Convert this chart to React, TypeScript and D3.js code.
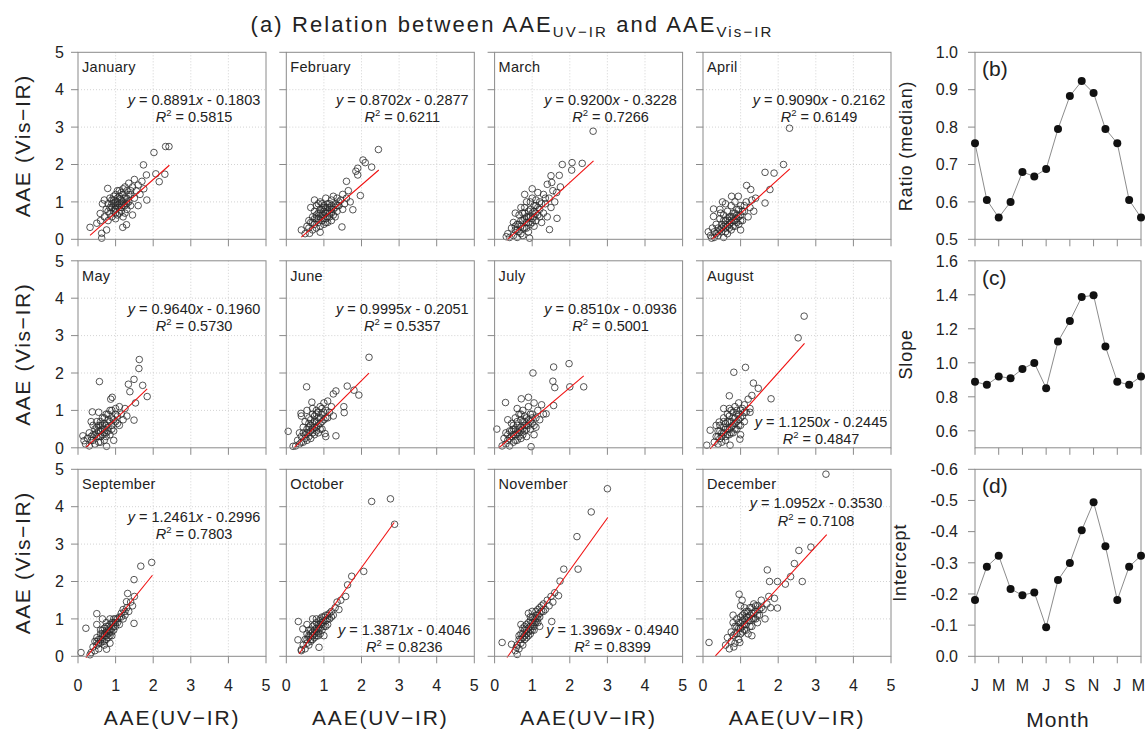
import React from "react";
import * as d3 from "d3";

const FONT = "'Liberation Sans', Arial, Helvetica, sans-serif";

// ---------- data ----------
const monthNames = ["January", "February", "March", "April", "May", "June", "July", "August", "September", "October", "November", "December"];
const slopes = [0.8891, 0.8702, 0.92, 0.909, 0.964, 0.9995, 0.851, 1.125, 1.2461, 1.3871, 1.3969, 1.0952];
const intercepts = [-0.1803, -0.2877, -0.3228, -0.2162, -0.196, -0.2051, -0.0936, -0.2445, -0.2996, -0.4046, -0.494, -0.353];
const r2Values = [0.5815, 0.6211, 0.7266, 0.6149, 0.573, 0.5357, 0.5001, 0.4847, 0.7803, 0.8236, 0.8399, 0.7108];
const fitXMin = [0.32, 0.4, 0.33, 0.23, 0.2, 0.21, 0.11, 0.19, 0.21, 0.34, 0.33, 0.33];
const fitXMax = [2.43, 2.46, 2.63, 2.31, 1.84, 2.2, 2.37, 2.7, 1.98, 2.87, 3.01, 3.29];
const ratioMedian = [0.757, 0.605, 0.558, 0.6, 0.68, 0.668, 0.688, 0.795, 0.883, 0.923, 0.891, 0.795];
const monthTickLabels = ["J", "M", "M", "J", "S", "N", "J", "M"];
const scatterTicks = [0, 1, 2, 3, 4, 5];
const ratioTicks = [0.5, 0.6, 0.7, 0.8, 0.9, 1.0];
const slopeTicks = [0.6, 0.8, 1.0, 1.2, 1.4, 1.6];
const interceptTicks = [0, -0.1, -0.2, -0.3, -0.4, -0.5, -0.6];

// scatter points (x,y pairs)
const ptsJan = [0.7,0.6, 0.75,0.8, 0.8,0.5, 0.8,0.95, 0.85,0.7, 0.85,1.1, 0.9,0.6, 0.9,0.85, 0.9,1.05, 0.95,0.75, 0.95,0.95, 1.0,0.55, 1.0,0.8, 1.0,1.0, 1.0,1.2, 1.05,0.9, 1.05,1.1, 1.1,0.7, 1.1,0.95, 1.1,1.3, 1.15,0.85, 1.15,1.05, 1.2,0.6, 1.2,1.0, 1.2,1.2, 1.25,0.9, 1.25,1.4, 1.3,0.8, 1.3,1.1, 1.3,1.3, 1.35,1.0, 1.35,1.5, 1.4,1.2, 1.4,0.9, 1.45,1.4, 1.5,1.1, 1.5,1.6, 1.55,1.3, 1.6,1.45, 1.65,1.2, 1.7,1.55, 1.75,1.35, 0.65,0.95, 0.7,1.05, 0.6,0.5, 1.45,0.65, 1.6,0.9,
  0.95,1.15, 1.0,0.7, 1.05,1.3, 1.1,0.85, 1.1,1.15, 1.15,0.75, 1.15,1.25, 1.2,0.9, 1.25,1.1, 1.25,0.7, 1.3,1.0, 1.0,0.9, 0.9,0.95, 0.85,0.85, 1.05,0.65, 1.2,1.35, 1.35,1.2, 0.95,1.05, 1.4,1.3, 1.15,0.95, 0.8,0.75, 1.3,0.95, 1.05,1.0, 1.12,1.08, 0.98,0.82,
  0.32,0.32, 0.63,0.03, 0.63,0.16, 0.76,0.25, 0.79,1.36, 0.5,0.43, 2.02,2.32, 2.33,2.48, 2.42,2.48, 1.74,1.99, 2.31,1.74, 2.16,1.54, 2.07,1.75, 1.82,1.72, 1.83,1.05, 1.19,0.32, 1.29,0.39, 0.59,0.69];
const ptsFeb = [0.5,0.15, 0.55,0.35, 0.6,0.3, 0.6,0.5, 0.65,0.45, 0.7,0.25, 0.7,0.6, 0.75,0.4, 0.75,0.75, 0.8,0.3, 0.8,0.55, 0.8,0.9, 0.85,0.45, 0.85,0.7, 0.9,0.35, 0.9,0.6, 0.9,1.0, 0.95,0.5, 0.95,0.8, 1.0,0.4, 1.0,0.65, 1.0,0.9, 1.05,0.55, 1.05,1.1, 1.1,0.45, 1.1,0.75, 1.1,0.95, 1.15,0.6, 1.15,0.85, 1.2,0.5, 1.2,0.7, 1.2,1.05, 1.25,0.8, 1.3,0.6, 1.3,0.95, 1.35,0.75, 1.35,1.1, 1.4,0.9, 1.45,1.05, 1.5,0.8, 1.5,1.2, 1.55,0.95, 1.6,1.1, 1.65,1.3, 1.7,1.0, 0.65,0.85, 0.75,1.05, 1.25,1.15,
  0.9,0.7, 0.95,0.65, 1.0,0.75, 1.05,0.7, 1.05,0.85, 1.1,0.6, 1.1,0.85, 1.15,0.7, 1.15,0.95, 1.2,0.8, 0.85,0.55, 0.8,0.65, 1.25,0.65, 1.0,0.55, 0.95,0.95, 1.3,0.85, 0.7,0.45, 0.75,0.55, 1.4,1.0, 1.2,0.9, 0.9,0.8, 1.05,0.45, 1.35,0.9, 1.0,0.85, 0.85,0.95,
  0.4,0.25, 0.62,0.16, 0.9,0.19, 1.48,0.33, 2.45,2.4, 2.04,2.12, 2.1,2.05, 1.9,1.9, 1.85,1.82, 1.9,1.72, 2.27,1.93, 1.6,1.55, 1.97,1.17, 1.77,0.79];
const ptsMar = [0.35,0.15, 0.4,0.05, 0.45,0.3, 0.5,0.1, 0.5,0.45, 0.55,0.25, 0.6,0.05, 0.6,0.4, 0.65,0.2, 0.65,0.65, 0.7,0.35, 0.7,0.85, 0.75,0.1, 0.75,0.5, 0.8,0.3, 0.8,0.7, 0.85,0.45, 0.85,1.0, 0.9,0.2, 0.9,0.6, 0.95,0.8, 0.95,0.4, 1.0,0.55, 1.0,1.1, 1.05,0.35, 1.05,0.75, 1.1,0.9, 1.1,0.5, 1.15,1.25, 1.15,0.65, 1.2,0.8, 1.2,1.0, 1.25,0.45, 1.3,0.7, 1.3,1.2, 1.35,0.95, 1.4,0.6, 1.45,1.1, 1.5,0.85, 1.55,1.3, 1.6,1.0, 1.65,1.25, 1.75,1.4, 0.55,0.7, 0.8,1.2, 1.0,1.35,
  0.7,0.5, 0.75,0.3, 0.8,0.55, 0.85,0.6, 0.85,0.3, 0.9,0.45, 0.9,0.75, 0.95,0.6, 1.0,0.7, 1.0,0.45, 1.05,0.6, 1.05,0.9, 1.1,0.7, 1.15,0.85, 0.65,0.4, 0.6,0.25, 0.7,0.15, 1.2,0.6, 1.25,0.95, 0.95,1.0, 0.8,0.85, 1.35,1.1, 0.55,0.35, 1.1,1.05, 0.75,0.7,
  2.62,2.89, 1.8,2.0, 2.06,2.05, 2.33,2.03, 2.05,1.85, 1.5,1.7, 1.72,1.71, 1.4,1.47, 1.52,1.52, 0.93,0.03, 0.31,0.07, 1.66,0.56, 1.46,0.26];
const ptsApr = [0.2,0.1, 0.25,0.3, 0.3,0.05, 0.3,0.2, 0.35,0.4, 0.4,0.1, 0.4,0.3, 0.45,0.55, 0.5,0.2, 0.5,0.4, 0.55,0.05, 0.55,0.65, 0.6,0.3, 0.6,0.5, 0.65,0.15, 0.65,0.75, 0.7,0.4, 0.7,0.6, 0.75,0.25, 0.75,0.9, 0.8,0.5, 0.8,0.7, 0.85,0.35, 0.85,1.0, 0.9,0.55, 0.9,0.8, 0.95,0.4, 1.0,0.65, 1.0,0.9, 1.05,0.5, 1.1,0.75, 1.15,1.0, 1.2,0.6, 1.25,0.85, 1.3,1.05, 1.35,0.75, 1.4,1.1, 0.45,0.8, 0.6,0.95, 1.0,0.25,
  0.5,0.3, 0.55,0.35, 0.6,0.2, 0.6,0.4, 0.65,0.35, 0.65,0.55, 0.7,0.3, 0.7,0.5, 0.75,0.45, 0.75,0.6, 0.8,0.35, 0.8,0.6, 0.85,0.5, 0.85,0.7, 0.9,0.45, 0.9,0.65, 0.95,0.6, 0.45,0.25, 0.4,0.2, 1.0,0.5, 1.05,0.75, 0.55,0.5, 0.35,0.15, 1.1,0.9, 0.95,0.8,
  2.3,2.97, 2.14,2.0, 1.65,1.79, 1.89,1.77, 1.16,1.44, 1.27,1.33, 1.78,1.33, 1.65,0.97, 0.52,1.0, 0.28,0.81, 0.28,0.61, 0.47,0.7, 0.76,1.15, 0.94,1.15, 0.14,0.2, 0.23,0.03];
const ptsMay = [0.2,0.1, 0.25,0.25, 0.3,0.05, 0.3,0.4, 0.35,0.2, 0.4,0.35, 0.4,0.6, 0.45,0.1, 0.45,0.5, 0.5,0.3, 0.5,0.7, 0.55,0.15, 0.55,0.45, 0.6,0.6, 0.6,0.3, 0.65,0.8, 0.65,0.5, 0.7,0.2, 0.7,0.65, 0.75,0.4, 0.75,0.9, 0.8,0.55, 0.8,0.75, 0.85,0.35, 0.85,1.0, 0.9,0.6, 0.9,0.8, 0.95,0.45, 1.0,0.7, 1.0,1.05, 1.05,0.85, 1.1,0.6, 1.1,1.1, 1.15,0.9, 1.2,0.75, 1.25,1.05, 1.3,0.85, 0.35,0.7, 0.55,0.95, 0.95,0.2,
  0.5,0.4, 0.55,0.3, 0.55,0.6, 0.6,0.45, 0.6,0.7, 0.65,0.35, 0.65,0.6, 0.7,0.5, 0.7,0.8, 0.75,0.6, 0.75,0.3, 0.8,0.45, 0.8,0.9, 0.85,0.7, 0.9,0.5, 0.45,0.35, 0.4,0.2, 0.35,0.3, 0.95,0.75, 1.0,0.9, 0.5,0.55, 0.9,1.0, 0.6,0.15, 1.05,0.65, 0.7,0.4,
  1.63,2.36, 1.62,2.12, 1.49,1.83, 1.34,1.7, 1.72,1.67, 1.38,1.5, 1.84,1.37, 1.53,1.2, 1.49,0.74, 0.57,1.77, 0.38,0.96, 0.91,1.35, 0.87,1.3, 0.13,0.32, 0.16,0.19, 0.76,0.04];
const ptsJun = [0.25,0.05, 0.3,0.2, 0.35,0.1, 0.35,0.4, 0.4,0.3, 0.45,0.15, 0.45,0.55, 0.5,0.35, 0.5,0.7, 0.55,0.2, 0.55,0.5, 0.6,0.8, 0.6,0.4, 0.65,0.6, 0.65,0.25, 0.7,0.9, 0.7,0.5, 0.75,0.7, 0.75,0.35, 0.8,1.0, 0.8,0.55, 0.85,0.8, 0.85,0.4, 0.9,1.1, 0.9,0.65, 0.95,0.9, 0.95,0.5, 1.0,1.2, 1.0,0.75, 1.05,1.0, 1.1,0.8, 1.1,1.25, 1.15,0.95, 1.2,1.1, 1.25,0.85, 0.4,0.85, 0.55,1.0, 1.05,0.3,
  0.55,0.4, 0.6,0.55, 0.6,0.3, 0.65,0.45, 0.65,0.75, 0.7,0.4, 0.7,0.65, 0.75,0.55, 0.75,0.85, 0.8,0.45, 0.8,0.7, 0.85,0.6, 0.85,0.95, 0.9,0.5, 0.9,0.8, 0.95,0.7, 1.0,0.95, 0.5,0.25, 0.45,0.4, 0.4,0.15, 1.05,0.8, 0.7,1.05, 0.95,1.05, 0.6,0.65, 0.8,0.9,
  2.2,2.42, 1.62,1.65, 1.8,1.54, 1.93,1.41, 1.53,1.1, 1.54,0.94, 1.32,0.32, 0.54,1.63, 0.05,0.44, 0.18,0.04, 1.32,1.52, 1.25,1.44, 1.03,0.38, 0.39,0.92, 0.68,1.22];
const ptsJul = [0.2,0.05, 0.25,0.25, 0.3,0.1, 0.3,0.4, 0.35,0.2, 0.4,0.45, 0.4,0.05, 0.45,0.3, 0.45,0.65, 0.5,0.15, 0.5,0.5, 0.55,0.35, 0.55,0.8, 0.6,0.2, 0.6,0.6, 0.65,0.4, 0.65,0.9, 0.7,0.55, 0.7,0.25, 0.75,0.7, 0.75,1.0, 0.8,0.45, 0.8,0.85, 0.85,0.6, 0.85,0.3, 0.9,0.75, 0.9,1.1, 0.95,0.5, 1.0,0.9, 1.0,0.65, 1.05,1.2, 1.1,0.8, 1.1,0.55, 1.15,1.0, 1.2,0.75, 1.25,1.15, 1.3,0.9, 0.35,0.75, 0.6,1.05, 1.05,0.35,
  0.5,0.35, 0.55,0.5, 0.55,0.2, 0.6,0.4, 0.6,0.7, 0.65,0.5, 0.65,0.3, 0.7,0.45, 0.7,0.75, 0.75,0.5, 0.75,0.35, 0.8,0.6, 0.8,0.7, 0.85,0.5, 0.85,0.8, 0.9,0.6, 0.95,0.7, 0.45,0.45, 0.4,0.25, 0.35,0.35, 1.0,0.8, 0.95,0.9, 0.5,0.6, 0.7,0.9, 1.05,0.6,
  1.98,2.25, 1.57,2.16, 1.02,2.0, 1.55,1.78, 1.6,1.61, 2.0,1.63, 2.37,1.63, 1.57,1.13, 0.06,0.5, 0.29,1.21, 0.71,1.31, 0.9,1.35, 0.97,0.03, 1.37,0.91];
const ptsAug = [0.3,0.15, 0.35,0.3, 0.4,0.1, 0.4,0.45, 0.45,0.25, 0.45,0.6, 0.5,0.4, 0.5,0.15, 0.55,0.55, 0.55,0.8, 0.6,0.3, 0.6,0.65, 0.65,0.5, 0.65,0.9, 0.7,0.35, 0.7,0.7, 0.75,0.55, 0.75,1.0, 0.8,0.4, 0.8,0.8, 0.85,0.65, 0.85,1.1, 0.9,0.5, 0.9,0.9, 0.95,0.75, 0.95,1.2, 1.0,0.6, 1.0,1.0, 1.05,0.85, 1.1,1.15, 1.1,0.7, 1.15,0.95, 1.2,1.3, 1.25,1.05, 1.3,1.4, 0.35,0.6, 0.55,1.05, 1.0,0.35,
  0.55,0.4, 0.6,0.5, 0.6,0.2, 0.65,0.35, 0.65,0.7, 0.7,0.5, 0.7,0.85, 0.75,0.4, 0.75,0.7, 0.8,0.6, 0.8,0.95, 0.85,0.5, 0.85,0.8, 0.9,0.7, 0.9,1.0, 0.95,0.9, 0.5,0.3, 0.45,0.45, 0.4,0.3, 1.0,0.8, 1.05,1.05, 0.55,0.7, 0.7,1.05, 0.95,0.6, 1.1,0.95,
  2.69,3.52, 2.53,2.94, 1.13,2.15, 0.82,2.02, 1.81,1.31, 1.34,1.73, 1.47,1.59, 1.25,0.95, 0.7,1.39, 0.1,0.07, 0.19,0.47, 0.43,0.69, 0.98,0.23, 0.72,0.07];
const ptsSep = [0.35,0.1, 0.4,0.25, 0.45,0.15, 0.45,0.4, 0.5,0.3, 0.5,0.5, 0.55,0.2, 0.55,0.45, 0.6,0.35, 0.6,0.6, 0.65,0.5, 0.65,0.7, 0.7,0.4, 0.7,0.6, 0.75,0.55, 0.75,0.8, 0.8,0.5, 0.8,0.7, 0.85,0.65, 0.85,0.85, 0.9,0.75, 0.9,0.55, 0.95,0.9, 0.95,0.7, 1.0,0.8, 1.0,1.0, 1.05,0.9, 1.1,1.05, 1.1,0.85, 1.15,1.15, 1.2,1.0, 1.2,1.25, 1.25,1.1, 1.3,1.3, 1.35,1.2, 1.4,1.45, 1.45,1.35, 1.5,1.6, 0.5,0.85, 0.65,1.0, 0.85,0.35,
  0.6,0.45, 0.65,0.6, 0.65,0.4, 0.7,0.55, 0.7,0.75, 0.75,0.65, 0.75,0.45, 0.8,0.6, 0.8,0.8, 0.85,0.7, 0.85,0.55, 0.9,0.65, 0.9,0.9, 0.95,0.8, 1.0,0.9, 0.55,0.35, 0.6,0.7, 0.75,0.9, 0.95,1.0, 1.05,1.0, 0.5,0.4, 1.15,1.05, 0.7,0.3, 0.85,1.0, 1.25,1.2,
  1.96,2.51, 1.67,2.41, 1.49,2.05, 1.49,0.88, 0.21,0.75, 0.08,0.1, 0.5,1.14, 1.32,1.68, 1.29,1.46, 0.76,0.19, 0.32,0.04];
const ptsOct = [0.4,0.15, 0.45,0.3, 0.5,0.2, 0.5,0.45, 0.55,0.35, 0.55,0.6, 0.6,0.3, 0.6,0.5, 0.65,0.45, 0.65,0.7, 0.7,0.55, 0.7,0.8, 0.75,0.5, 0.75,0.7, 0.8,0.65, 0.8,0.9, 0.85,0.75, 0.85,0.55, 0.9,0.85, 0.9,1.0, 0.95,0.7, 0.95,0.9, 1.0,0.8, 1.0,1.05, 1.05,0.95, 1.1,1.1, 1.1,0.85, 1.15,1.0, 1.2,1.2, 1.25,1.1, 1.3,1.3, 1.35,1.45, 1.4,1.25, 1.45,1.5, 0.55,0.85, 0.7,1.0, 1.0,0.55,
  0.6,0.55, 0.65,0.6, 0.7,0.65, 0.7,0.45, 0.75,0.6, 0.75,0.85, 0.8,0.75, 0.8,0.55, 0.85,0.85, 0.85,0.65, 0.9,0.75, 0.9,0.95, 0.95,0.85, 0.95,1.05, 1.0,0.95, 1.05,1.1, 1.05,0.8, 0.65,0.4, 0.6,0.7, 1.1,1.0, 1.15,1.15, 0.8,1.0, 0.9,0.6, 1.2,1.05, 0.55,0.45,
  2.27,4.14, 2.77,4.21, 2.88,3.53, 2.06,2.27, 1.74,2.14, 1.63,1.91, 1.58,1.6, 0.32,0.93, 0.31,0.44, 0.87,0.24, 0.44,0.73, 0.4,0.18];
const ptsNov = [0.55,0.15, 0.6,0.3, 0.65,0.2, 0.65,0.45, 0.7,0.35, 0.7,0.6, 0.75,0.5, 0.75,0.3, 0.8,0.45, 0.8,0.7, 0.85,0.6, 0.85,0.85, 0.9,0.55, 0.9,0.75, 0.95,0.7, 0.95,0.95, 1.0,0.8, 1.0,1.05, 1.05,0.9, 1.05,0.7, 1.1,1.0, 1.1,1.2, 1.15,0.9, 1.15,1.1, 1.2,1.3, 1.2,1.05, 1.25,1.2, 1.3,1.4, 1.35,1.25, 1.4,1.5, 1.45,1.35, 1.5,1.6, 1.55,1.45, 1.6,1.7, 0.7,0.85, 0.9,1.15, 1.2,0.8,
  0.75,0.6, 0.8,0.55, 0.8,0.8, 0.85,0.7, 0.85,0.5, 0.9,0.65, 0.9,0.9, 0.95,0.8, 0.95,0.6, 1.0,0.9, 1.0,0.7, 1.05,1.0, 1.05,0.8, 1.1,0.9, 1.1,1.1, 1.15,1.0, 1.15,1.25, 1.2,1.15, 1.25,1.35, 0.7,0.45, 0.65,0.55, 0.75,0.75, 1.3,1.2, 1.0,1.2, 0.95,1.05,
  3.0,4.48, 2.57,3.86, 2.19,3.2, 2.22,2.33, 1.84,2.33, 1.74,2.01, 1.7,1.62, 1.52,0.93, 0.2,0.37, 0.6,0.05, 0.58,0.24, 0.45,0.32];
const ptsDec = [0.6,0.3, 0.65,0.5, 0.7,0.2, 0.75,0.4, 0.75,0.65, 0.8,0.55, 0.85,0.35, 0.85,0.8, 0.9,0.6, 0.9,1.0, 0.95,0.45, 0.95,0.75, 1.0,0.9, 1.0,0.6, 1.05,1.1, 1.05,0.8, 1.1,0.7, 1.1,1.0, 1.15,1.2, 1.15,0.85, 1.2,0.6, 1.2,1.05, 1.25,0.95, 1.25,1.3, 1.3,0.8, 1.3,1.15, 1.35,1.0, 1.35,1.4, 1.4,1.2, 1.45,0.9, 1.45,1.35, 1.5,1.1, 1.55,1.5, 1.6,1.25, 1.65,1.0, 1.7,1.4, 1.75,1.6, 1.8,1.3, 1.9,1.55, 0.8,1.1, 1.0,1.35, 1.3,0.55,
  0.9,0.8, 0.95,0.9, 1.0,0.75, 1.0,1.05, 1.05,0.95, 1.05,0.65, 1.1,0.85, 1.1,1.15, 1.15,1.05, 1.15,0.7, 1.2,0.95, 1.2,1.2, 1.25,1.1, 1.25,0.8, 1.3,1.0, 1.3,1.3, 1.35,1.15, 1.4,1.0, 1.4,1.35, 1.5,1.25, 0.85,0.6, 0.8,0.9, 1.55,1.3, 1.1,1.3, 1.45,1.1,
  3.27,4.87, 2.87,2.92, 2.55,2.83, 2.43,2.48, 2.33,2.13, 2.64,2.0, 2.19,1.93, 1.71,2.31, 1.98,2.0, 1.98,1.29, 1.77,2.0, 0.96,1.66, 1.04,1.5, 0.16,0.37, 0.82,0.25, 0.98,0.37];
const monthPoints = [ptsJan, ptsFeb, ptsMar, ptsApr, ptsMay, ptsJun, ptsJul, ptsAug, ptsSep, ptsOct, ptsNov, ptsDec];

// ---------- layout ----------
const PW = 188, PH = 187;
const colX = [78, 286.3, 494.6, 703];
const rowY = [52.3, 260.8, 469.3];
const eqPlace = ["t", "t", "t", "t", "t", "t", "t", "b", "t", "b", "b", "m"];
const RX = 975, RW = 166;
const AX = "#8a8a8a";
const TXT = "#222";

function toPairs(flat: number[]) {
  const out: [number, number][] = [];
  for (let k = 0; k + 1 < flat.length; k += 2) out.push([flat[k], flat[k + 1]]);
  return out;
}

function ScatterPanel({ idx }: { idx: number }) {
  const c = idx % 4, r = Math.floor(idx / 4);
  const x0 = colX[c], y0 = rowY[r];
  const xs = d3.scaleLinear().domain([0, 5]).range([x0, x0 + PW]);
  const ys = d3.scaleLinear().domain([0, 5]).range([y0 + PH, y0]);
  const pts = toPairs(monthPoints[idx]);
  const a = slopes[idx], b = intercepts[idx];
  const line = d3.line<number>().x((v) => xs(v)).y((v) => ys(a * v + b));
  const place = eqPlace[idx];
  let cx = x0 + 116, b1 = y0 + 53, b2 = y0 + 70;
  if (place === "b") { cx = x0 + 118; b1 = y0 + PH - 21; b2 = y0 + PH - 4; }
  if (place === "m") { cx = x0 + 113; b1 = y0 + 39; b2 = y0 + 57; }
  const bStr = Math.abs(b).toFixed(4);
  return (
    <g>
      {scatterTicks.slice(1, 5).map((t) => (
        <g key={"g" + t}>
          <line x1={xs(t)} x2={xs(t)} y1={y0} y2={y0 + PH} stroke="#c8c8c8" strokeWidth={0.8} strokeDasharray="1,2" />
          <line x1={x0} x2={x0 + PW} y1={ys(t)} y2={ys(t)} stroke="#c8c8c8" strokeWidth={0.8} strokeDasharray="1,2" />
        </g>
      ))}
      {pts.map(([px, py], k) => (
        <circle key={k} cx={xs(px)} cy={ys(py)} r={3.3} fill="none" stroke="#2b2b2b" strokeWidth={0.8} />
      ))}
      <path d={line([fitXMin[idx], fitXMax[idx]]) || ""} stroke="#f01010" strokeWidth={1.1} fill="none" />
      <rect x={x0} y={y0} width={PW} height={PH} fill="none" stroke={AX} strokeWidth={1} />
      {scatterTicks.map((t) => (
        <g key={"t" + t}>
          <line x1={xs(t)} x2={xs(t)} y1={y0 + PH} y2={y0 + PH + 7} stroke={AX} />
          <line x1={x0 - 7} x2={x0} y1={ys(t)} y2={ys(t)} stroke={AX} />
          {c === 0 && (
            <text x={x0 - 14} y={ys(t)} dy="0.36em" textAnchor="end" fontSize={16} fill={TXT}>{t}</text>
          )}
          {r === 2 && (
            <text x={xs(t)} y={691} textAnchor="middle" fontSize={16} fill={TXT}>{t}</text>
          )}
        </g>
      ))}
      <text x={x0 + 4} y={y0 + 20} fontSize={14.5} fill={TXT} letterSpacing={0.3}>{monthNames[idx]}</text>
      <text x={cx} y={b1} textAnchor="middle" fontSize={14.5} fill={TXT}>
        <tspan fontStyle="italic">y</tspan>
        <tspan>{` = ${a.toFixed(4)}`}</tspan>
        <tspan fontStyle="italic">x</tspan>
        <tspan>{` - ${bStr}`}</tspan>
      </text>
      <text x={cx} y={b2} textAnchor="middle" fontSize={14.5} fill={TXT}>
        <tspan fontStyle="italic">R</tspan>
        <tspan fontSize={9.5} dy={-6}>2</tspan>
        <tspan dy={6}>{` = ${r2Values[idx].toFixed(4)}`}</tspan>
      </text>
    </g>
  );
}

function SidePanel({ row, values, domain, ticks, fmt, tag, label, labelX }: any) {
  const y0 = rowY[row];
  const xs = d3.scaleLinear().domain([0, 14]).range([RX, RX + RW]);
  const ys = d3.scaleLinear().domain(domain).range([y0 + PH, y0]);
  const line = d3.line<number>().x((_, i) => xs(i)).y((v) => ys(v));
  const monthIdx = d3.range(0, 15, 2);
  return (
    <g>
      <rect x={RX} y={y0} width={RW} height={PH} fill="none" stroke={AX} />
      {ticks.map((t: number) => (
        <g key={t}>
          <line x1={RX - 7} x2={RX} y1={ys(t)} y2={ys(t)} stroke={AX} />
          <text x={RX - 17} y={ys(t)} dy="0.36em" textAnchor="end" fontSize={16} fill={TXT}>{fmt(t)}</text>
        </g>
      ))}
      {monthIdx.map((m, k) => (
        <g key={"m" + m}>
          <line x1={xs(m)} x2={xs(m)} y1={y0 + PH} y2={y0 + PH + 7} stroke={AX} />
          {row === 2 && (
            <text x={Math.min(xs(m), 1138.5)} y={691} textAnchor="middle" fontSize={16} fill={TXT}>{monthTickLabels[k]}</text>
          )}
        </g>
      ))}
      <path d={line(values) || ""} fill="none" stroke="#8c8c8c" strokeWidth={1} />
      {values.map((v: number, i: number) => (
        <circle key={i} cx={xs(i)} cy={ys(v)} r={4} fill="#111" />
      ))}
      <text x={RX + 7} y={y0 + 24} fontSize={21} fill={TXT}>{tag}</text>
      <text transform={`translate(${labelX},${y0 + PH / 2}) rotate(-90)`} textAnchor="middle" fontSize={18} fill={TXT} letterSpacing={0.9}>{label}</text>
    </g>
  );
}

export default function App() {
  const wrap = (arr: number[]) => [...arr, ...arr.slice(0, 3)];
  return (
    <svg width={1146} height={732} style={{ position: "absolute", left: 0, top: 0 }} fontFamily={FONT}>
      <rect width={1146} height={732} fill="#fff" />
      <text x={512} y={32} textAnchor="middle" fontSize={22} fill={TXT} letterSpacing={2.1}>
        <tspan>(a) Relation between AAE</tspan>
        <tspan fontSize={15} dy={5}>UV−IR</tspan>
        <tspan dy={-5}> and AAE</tspan>
        <tspan fontSize={15} dy={5}>Vis−IR</tspan>
      </text>
      {monthNames.map((_, i) => <ScatterPanel key={i} idx={i} />)}
      {rowY.map((y, r) => (
        <text key={"yl" + r} transform={`translate(30,${y + PH / 2}) rotate(-90)`} textAnchor="middle" fontSize={21} fill={TXT} letterSpacing={1.6}>AAE (Vis−IR)</text>
      ))}
      {colX.map((x, c) => (
        <text key={"xl" + c} x={x + PW / 2} y={725} textAnchor="middle" fontSize={21} fill={TXT} letterSpacing={1.8}>AAE(UV−IR)</text>
      ))}
      <SidePanel row={0} values={wrap(ratioMedian)} domain={[0.5, 1.0]} ticks={ratioTicks} fmt={(t: number) => t.toFixed(1)} tag="(b)" label="Ratio (median)" labelX={912} />
      <SidePanel row={1} values={wrap(slopes)} domain={[0.5, 1.6]} ticks={slopeTicks} fmt={(t: number) => t.toFixed(1)} tag="(c)" label="Slope" labelX={912} />
      <SidePanel row={2} values={wrap(intercepts)} domain={[0, -0.6]} ticks={interceptTicks} fmt={(t: number) => (t === 0 ? "0.0" : t.toFixed(1))} tag="(d)" label="Intercept" labelX={906} />
      <text x={RX + RW / 2} y={727} textAnchor="middle" fontSize={21} fill={TXT} letterSpacing={1}>Month</text>
    </svg>
  );
}
